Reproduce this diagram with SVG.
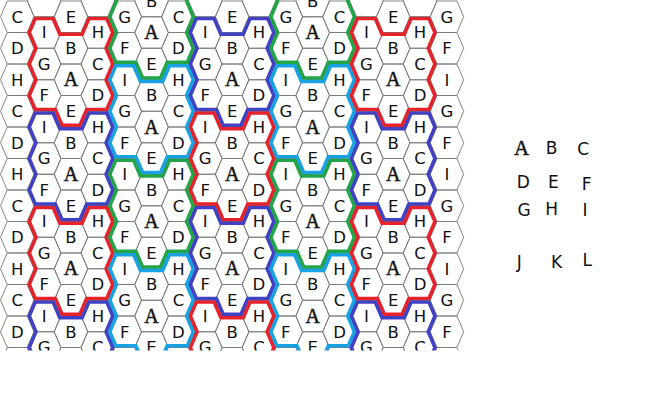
<svg xmlns="http://www.w3.org/2000/svg" width="654" height="412" viewBox="0 0 654 412">
<style>
.hx{fill:none;stroke:#7a7a7a;stroke-width:0.9}
.t{font-family:"DejaVu Sans",Verdana,sans-serif;font-size:16.5px;fill:#111111;text-anchor:middle}
.a{font-family:"Liberation Serif","Times New Roman",serif;font-size:20px;stroke:#111111;stroke-width:0.45}
.lg{font-size:17px}
.lg .a{font-size:21px}
.o{fill:none;stroke-width:7;stroke-linejoin:miter}
.red{stroke:#e6222b}.blue{stroke:#4141c4}.green{stroke:#21a548}.cyan{stroke:#18a2e4}
</style>
<defs>
<path id="h" d="M-16.8,0L-10.05,-15.75H10.05L16.8,0L10.05,15.75H-10.05Z"/>
<g id="HE"><use href="#h" y="16.75"/><use href="#h" y="48.25"/><use href="#h" y="79.75"/><use href="#h" y="111.25"/><use href="#h" y="142.75"/><use href="#h" y="174.25"/><use href="#h" y="205.75"/><use href="#h" y="237.25"/><use href="#h" y="268.75"/><use href="#h" y="300.25"/><use href="#h" y="331.75"/><use href="#h" y="363.25"/></g>
<g id="HO"><use href="#h" y="1"/><use href="#h" y="32.5"/><use href="#h" y="64"/><use href="#h" y="95.5"/><use href="#h" y="127"/><use href="#h" y="158.5"/><use href="#h" y="190"/><use href="#h" y="221.5"/><use href="#h" y="253"/><use href="#h" y="284.5"/><use href="#h" y="316"/><use href="#h" y="347.5"/></g>
<path id="tile" d="M-36.9,-63H-16.8L-10.05,-47.25H10.05L16.8,-63H36.9L43.65,-47.25L36.9,-31.5L43.65,-15.75L36.9,0L43.65,15.75L36.9,31.5H16.8L10.05,47.25H-10.05L-16.8,31.5H-36.9L-43.65,15.75L-36.9,0L-43.65,-15.75L-36.9,-31.5L-43.65,-47.25Z"/>
<clipPath id="tc"><use href="#tile"/></clipPath>
<clipPath id="fr"><rect x="0" y="0" width="470" height="350.5"/></clipPath>
<g id="L0"><text y="22.7">C</text><text y="54.2">D</text><text y="85.7">H</text><text y="117.2">C</text><text y="148.7">D</text><text y="180.2">H</text><text y="211.7">C</text><text y="243.2">D</text><text y="274.7">H</text><text y="306.2">C</text><text y="337.7">D</text></g>
<g id="L2"><text y="22.7">E</text><text y="54.2">B</text><text class="a" y="86.35">A</text><text y="117.2">E</text><text y="148.7">B</text><text class="a" y="180.85">A</text><text y="211.7">E</text><text y="243.2">B</text><text class="a" y="275.35">A</text><text y="306.2">E</text><text y="337.7">B</text></g>
<g id="L4"><text y="22.7">G</text><text y="54.2">F</text><text y="85.7">I</text><text y="117.2">G</text><text y="148.7">F</text><text y="180.2">I</text><text y="211.7">G</text><text y="243.2">F</text><text y="274.7">I</text><text y="306.2">G</text><text y="337.7">F</text></g>
<g id="L1"><text y="38.45">I</text><text y="69.95">G</text><text y="101.45">F</text><text y="132.95">I</text><text y="164.45">G</text><text y="195.95">F</text><text y="227.45">I</text><text y="258.95">G</text><text y="290.45">F</text><text y="321.95">I</text><text y="353.45">G</text></g>
<g id="L3"><text y="38.45">H</text><text y="69.95">C</text><text y="101.45">D</text><text y="132.95">H</text><text y="164.45">C</text><text y="195.95">D</text><text y="227.45">H</text><text y="258.95">C</text><text y="290.45">D</text><text y="321.95">H</text><text y="353.45">C</text></g>
<g id="L5"><text y="6.95">B</text><text class="a" y="39.1">A</text><text y="69.95">E</text><text y="101.45">B</text><text class="a" y="133.6">A</text><text y="164.45">E</text><text y="195.95">B</text><text class="a" y="228.1">A</text><text y="258.95">E</text><text y="290.45">B</text><text class="a" y="322.6">A</text><text y="353.45">E</text></g>
</defs>
<rect width="654" height="412" fill="#ffffff"/>
<g id="board" clip-path="url(#fr)">
<g id="cells" class="hx">
<use href="#HE" x="17.3"/><use href="#HO" x="44.15"/><use href="#HE" x="71"/><use href="#HO" x="97.85"/><use href="#HE" x="124.7"/><use href="#HO" x="151.55"/><use href="#HE" x="178.4"/><use href="#HO" x="205.25"/><use href="#HE" x="232.1"/><use href="#HO" x="258.95"/><use href="#HE" x="285.8"/><use href="#HO" x="312.65"/><use href="#HE" x="339.5"/><use href="#HO" x="366.35"/><use href="#HE" x="393.2"/><use href="#HO" x="420.05"/><use href="#HE" x="446.9"/>
</g>
<g id="tiles">
<g id="t0a" transform="translate(71,79.75)"><use href="#tile" class="o red" clip-path="url(#tc)"/></g>
<g id="t0b" transform="translate(71,174.25)"><use href="#tile" class="o blue" clip-path="url(#tc)"/></g>
<g id="t0c" transform="translate(71,268.75)"><use href="#tile" class="o red" clip-path="url(#tc)"/></g>
<g id="t0d" transform="translate(71,363.25)"><use href="#tile" class="o blue" clip-path="url(#tc)"/></g>
<g id="t1a" transform="translate(151.55,32.5)"><use href="#tile" class="o green" clip-path="url(#tc)"/></g>
<g id="t1b" transform="translate(151.55,127)"><use href="#tile" class="o cyan" clip-path="url(#tc)"/></g>
<g id="t1c" transform="translate(151.55,221.5)"><use href="#tile" class="o green" clip-path="url(#tc)"/></g>
<g id="t1d" transform="translate(151.55,316)"><use href="#tile" class="o cyan" clip-path="url(#tc)"/></g>
<g id="t2a" transform="translate(232.1,79.75)"><use href="#tile" class="o blue" clip-path="url(#tc)"/></g>
<g id="t2b" transform="translate(232.1,174.25)"><use href="#tile" class="o red" clip-path="url(#tc)"/></g>
<g id="t2c" transform="translate(232.1,268.75)"><use href="#tile" class="o blue" clip-path="url(#tc)"/></g>
<g id="t2d" transform="translate(232.1,363.25)"><use href="#tile" class="o red" clip-path="url(#tc)"/></g>
<g id="t3a" transform="translate(312.65,32.5)"><use href="#tile" class="o green" clip-path="url(#tc)"/></g>
<g id="t3b" transform="translate(312.65,127)"><use href="#tile" class="o cyan" clip-path="url(#tc)"/></g>
<g id="t3c" transform="translate(312.65,221.5)"><use href="#tile" class="o green" clip-path="url(#tc)"/></g>
<g id="t3d" transform="translate(312.65,316)"><use href="#tile" class="o cyan" clip-path="url(#tc)"/></g>
<g id="t4a" transform="translate(393.2,79.75)"><use href="#tile" class="o red" clip-path="url(#tc)"/></g>
<g id="t4b" transform="translate(393.2,174.25)"><use href="#tile" class="o blue" clip-path="url(#tc)"/></g>
<g id="t4c" transform="translate(393.2,268.75)"><use href="#tile" class="o red" clip-path="url(#tc)"/></g>
<g id="t4d" transform="translate(393.2,363.25)"><use href="#tile" class="o blue" clip-path="url(#tc)"/></g>
</g>
<g id="labels" class="t">
<use href="#L0" x="17.3"/><use href="#L1" x="44.15"/><use href="#L2" x="71"/><use href="#L3" x="97.85"/><use href="#L4" x="124.7"/><use href="#L5" x="151.55"/><use href="#L0" x="178.4"/><use href="#L1" x="205.25"/><use href="#L2" x="232.1"/><use href="#L3" x="258.95"/><use href="#L4" x="285.8"/><use href="#L5" x="312.65"/><use href="#L0" x="339.5"/><use href="#L1" x="366.35"/><use href="#L2" x="393.2"/><use href="#L3" x="420.05"/><use href="#L4" x="446.9"/>
</g>
</g>
<g id="legend" class="t lg">
<text class="a" x="521.7" y="155.2">A</text><text x="551.7" y="153.5">B</text><text x="583.3" y="154.5">C</text>
<text x="523.3" y="187.9">D</text><text x="553.3" y="187.9">E</text><text x="586.7" y="189.5">F</text>
<text x="524" y="216.2">G</text><text x="551.7" y="214.5">H</text><text x="585" y="216.2">I</text>
<text x="519.3" y="267.9">J</text><text x="556.7" y="267.9">K</text><text x="587.3" y="266.2">L</text>
</g>
</svg>
